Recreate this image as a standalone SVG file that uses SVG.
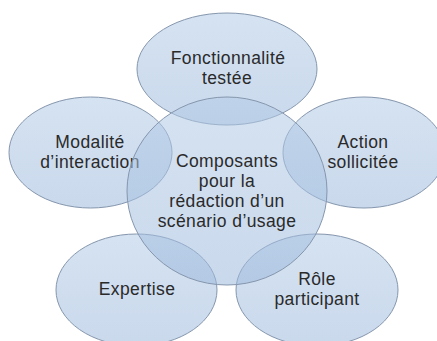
<svg xmlns="http://www.w3.org/2000/svg" width="437" height="341" viewBox="0 0 437 341">
<defs>
<linearGradient id="g" x1="0" y1="0" x2="0" y2="1">
<stop offset="0" stop-color="#b3cbe6"/>
<stop offset="1" stop-color="#9db9dc"/>
</linearGradient>
<style>
.n{fill:url(#g);fill-opacity:0.55;stroke:#8596ad;stroke-width:1}
.t{font-family:"Liberation Sans",Arial,sans-serif;font-size:17.5px;letter-spacing:0.4px;fill:#2a2a2a;text-anchor:middle}
</style>
</defs>
<rect width="437" height="341" fill="#ffffff"/>
<g id="fonctionnalite">
<ellipse class="n" cx="227" cy="69" rx="90" ry="56"/>
<text class="t" x="228" y="64">Fonctionnalité<tspan x="227" dy="20">testée</tspan></text>
</g>
<g id="modalite">
<ellipse class="n" cx="90.5" cy="152.5" rx="81.5" ry="55.5"/>
<text class="t" x="90" y="148">Modalité<tspan x="90" dy="20">d’interaction</tspan></text>
</g>
<g id="action">
<ellipse class="n" cx="364" cy="152.5" rx="81" ry="55.5"/>
<text class="t" x="363" y="148">Action<tspan x="363" dy="20">sollicitée</tspan></text>
</g>
<g id="expertise">
<ellipse class="n" cx="136.5" cy="290" rx="80.5" ry="56"/>
<text class="t" x="137" y="295">Expertise</text>
</g>
<g id="role">
<ellipse class="n" cx="317" cy="290" rx="81" ry="56"/>
<text class="t" x="317" y="285">Rôle<tspan x="317" dy="20">participant</tspan></text>
</g>
<g id="composants">
<ellipse class="n" cx="227" cy="191" rx="100" ry="94"/>
<text class="t" x="227" y="167">Composants<tspan x="227" dy="20">pour la</tspan><tspan x="227" dy="20">rédaction d’un</tspan><tspan x="227" dy="20">scénario d’usage</tspan></text>
</g>
<g id="connectors"/>
</svg>
